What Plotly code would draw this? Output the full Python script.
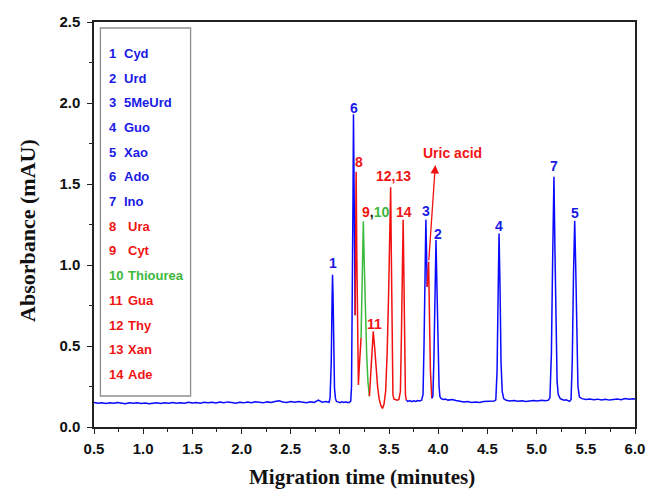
import plotly.graph_objects as go

# ---------------- electropherogram data (time in minutes, absorbance in mAU) ----------------
# baseline + peaks 1 and 6 (blue)
blue1_t = [0.50, 0.54, 0.58, 0.62, 0.66, 0.70, 0.74, 0.78, 0.82, 0.86, 0.90, 0.94, 0.98,
           1.02, 1.06, 1.10, 1.14, 1.18, 1.22, 1.26, 1.30, 1.34, 1.38, 1.42, 1.46, 1.50,
           1.54, 1.58, 1.62, 1.66, 1.70, 1.74, 1.78, 1.82, 1.86, 1.90, 1.94, 1.98, 2.02,
           2.06, 2.10, 2.14, 2.18, 2.22, 2.26, 2.30, 2.34, 2.38, 2.42, 2.46, 2.50, 2.54,
           2.58, 2.62, 2.66, 2.70, 2.74, 2.78, 2.82, 2.86, 2.89,
           2.900, 2.912, 2.920, 2.925, 2.930, 2.937, 2.945, 2.955, 2.965,
           2.98, 3.00, 3.02, 3.04, 3.06, 3.08, 3.10, 3.11,
           3.118, 3.126, 3.133, 3.138, 3.143, 3.150, 3.155]
blue1_a = [0.152, 0.147, 0.150, 0.145, 0.149, 0.146, 0.151, 0.147, 0.144, 0.149, 0.146, 0.150, 0.145,
           0.148, 0.143, 0.147, 0.150, 0.145, 0.149, 0.146, 0.151, 0.147, 0.150, 0.146, 0.152, 0.148,
           0.151, 0.147, 0.153, 0.149, 0.152, 0.148, 0.154, 0.150, 0.155, 0.151, 0.147, 0.152, 0.149,
           0.154, 0.150, 0.156, 0.152, 0.149, 0.155, 0.151, 0.157, 0.162, 0.155, 0.152, 0.157, 0.153,
           0.158, 0.154, 0.150, 0.156, 0.152, 0.166, 0.153, 0.157, 0.152,
           0.18, 0.40, 0.78, 0.94, 0.82, 0.45, 0.24, 0.175, 0.158,
           0.155, 0.150, 0.156, 0.151, 0.155, 0.150, 0.154, 0.160,
           0.25, 0.70, 1.40, 1.93, 1.50, 0.95, 0.69]

# peak 8 (red)
red1_t = [3.155, 3.160, 3.165, 3.172, 3.180, 3.188, 3.196, 3.205, 3.215]
red1_a = [0.69, 1.20, 1.576, 1.05, 0.50, 0.26, 0.36, 0.48, 0.55]

# peaks 9,10 (green)
green_t = [3.215, 3.225, 3.233, 3.238, 3.248, 3.260, 3.272, 3.285, 3.300]
green_a = [0.55, 0.85, 1.15, 1.27, 1.00, 0.70, 0.45, 0.28, 0.19]

# peaks 11, 12/13 and 14 (red)
red2_t = [3.300, 3.312, 3.325, 3.339, 3.352, 3.365, 3.383, 3.400, 3.418, 3.433, 3.448,
          3.465, 3.480, 3.495, 3.508, 3.516, 3.524, 3.532, 3.539, 3.550, 3.565, 3.583,
          3.600, 3.615, 3.625, 3.635, 3.643, 3.650, 3.658, 3.666, 3.675]
red2_a = [0.19, 0.32, 0.50, 0.59, 0.50, 0.38, 0.25, 0.17, 0.13, 0.115, 0.14,
          0.22, 0.45, 0.82, 1.22, 1.48, 1.00, 0.45, 0.20, 0.172, 0.168, 0.165,
          0.17, 0.22, 0.55, 1.00, 1.28, 0.95, 0.45, 0.20, 0.165]

# baseline + peak 3 (blue)
blue2_t = [3.675, 3.69, 3.71, 3.73, 3.75, 3.77, 3.79, 3.81, 3.83,
           3.845, 3.855, 3.865, 3.874, 3.880, 3.887]
blue2_a = [0.165, 0.158, 0.163, 0.157, 0.162, 0.158, 0.163, 0.160, 0.165,
           0.20, 0.50, 1.00, 1.28, 1.10, 0.866]

# uric acid (red)
red3_t = [3.887, 3.895, 3.902, 3.910, 3.920, 3.934]
red3_a = [0.866, 0.95, 1.02, 0.70, 0.35, 0.177]

# peaks 2, 4, 7, 5 and baseline to the end (blue)
blue3_t = [3.934, 3.945, 3.955, 3.965, 3.977, 3.987, 3.998, 4.008, 4.017, 4.03, 4.05, 4.07,
           4.10, 4.14, 4.18, 4.22, 4.26, 4.30, 4.34, 4.38, 4.42, 4.46, 4.50, 4.54, 4.57,
           4.585, 4.598, 4.608, 4.618, 4.628, 4.638, 4.650, 4.665,
           4.69, 4.73, 4.77, 4.81, 4.85, 4.89, 4.93, 4.97, 5.01, 5.05, 5.09, 5.12,
           5.135, 5.150, 5.162, 5.176, 5.186, 5.196, 5.208, 5.22, 5.24, 5.26, 5.28,
           5.30, 5.32, 5.335, 5.35, 5.362, 5.375, 5.387, 5.397, 5.408, 5.42, 5.435,
           5.46, 5.50, 5.54, 5.58, 5.62, 5.66, 5.70, 5.74, 5.78, 5.82, 5.86, 5.90,
           5.94, 5.98, 6.00]
blue3_a = [0.177, 0.19, 0.40, 0.85, 1.154, 0.85, 0.45, 0.25, 0.187, 0.175, 0.170, 0.172,
           0.166, 0.170, 0.163, 0.160, 0.155, 0.157, 0.151, 0.154, 0.152, 0.158, 0.160, 0.163, 0.160,
           0.168, 0.35, 0.80, 1.195, 0.85, 0.40, 0.22, 0.175,
           0.165, 0.160, 0.164, 0.159, 0.162, 0.157, 0.160, 0.163, 0.160, 0.165, 0.162, 0.166,
           0.18, 0.45, 1.00, 1.545, 1.10, 0.55, 0.28, 0.20, 0.175, 0.170, 0.165,
           0.168, 0.160, 0.158, 0.17, 0.40, 0.95, 1.273, 1.00, 0.55, 0.25, 0.185,
           0.175, 0.170, 0.173, 0.168, 0.172, 0.167, 0.171, 0.166, 0.171, 0.173, 0.168, 0.176,
           0.171, 0.175, 0.172]

# peak labels: text, time, absorbance of label centre, colour key
peak_labels = ["1", "6", "8", "11", "12,13", "14", "3", "2", "4", "7", "5"]
peak_label_t = [2.925, 3.140, 3.192, 3.349, 3.546, 3.650, 3.874, 3.994, 4.618, 5.176, 5.387]
peak_label_a = [1.012, 1.969, 1.638, 0.634, 1.551, 1.329, 1.333, 1.190, 1.243, 1.611, 1.319]
peak_label_c = ["b", "b", "r", "r", "r", "r", "b", "b", "b", "b", "b"]

# legend entries
legend_num = ["1", "2", "3", "4", "5", "6", "7", "8", "9", "10", "11", "12", "13", "14"]
legend_name = ["Cyd", "Urd", "5MeUrd", "Guo", "Xao", "Ado", "Ino",
               "Ura", "Cyt", "Thiourea", "Gua", "Thy", "Xan", "Ade"]
legend_c = ["b", "b", "b", "b", "b", "b", "b", "r", "r", "g", "r", "r", "r", "r"]

x_ticks = [0.5, 1.0, 1.5, 2.0, 2.5, 3.0, 3.5, 4.0, 4.5, 5.0, 5.5, 6.0]
y_ticks = [0.0, 0.5, 1.0, 1.5, 2.0, 2.5]

# ---------------- styling ----------------
BLUE = "#0a0aff"
RED = "#f21010"
GREEN = "#3cba3c"
TEXT_C = {"b": "#1a1ae6", "r": "#f01515", "g": "#3cb83c"}
SANS = "Liberation Sans, Arial, sans-serif"
SERIF = "Liberation Serif, Times New Roman, serif"

W, H = 657, 492
L, R, T, B = 94, 643, 22, 427


def px(x):
    return (x - L) / (R - L)


def py(y):
    return (B - y) / (B - T)


fig = go.Figure()
for tt, aa, col in [(blue1_t, blue1_a, BLUE), (red1_t, red1_a, RED), (green_t, green_a, GREEN),
                    (red2_t, red2_a, RED), (blue2_t, blue2_a, BLUE), (red3_t, red3_a, RED),
                    (blue3_t, blue3_a, BLUE)]:
    fig.add_trace(go.Scatter(x=tt, y=aa, mode="lines", line=dict(color=col, width=1.5),
                             hoverinfo="skip", showlegend=False))

ann = []
# peak labels
for txt, t, a, c in zip(peak_labels, peak_label_t, peak_label_a, peak_label_c):
    ann.append(dict(x=t, y=a, xref="x", yref="y", text=f"<b>{txt}</b>", showarrow=False,
                    font=dict(family=SANS, size=14, color=TEXT_C[c]),
                    xanchor="center", yanchor="middle"))
# combined "9,10" label
ann.append(dict(x=3.36, y=1.329, xref="x", yref="y", showarrow=False,
                text=(f"<b><span style='color:{TEXT_C['r']}'>9</span>"
                      f"<span style='color:#111'>,</span>"
                      f"<span style='color:{TEXT_C['g']}'>10</span></b>"),
                font=dict(family=SANS, size=14), xanchor="center", yanchor="middle"))
# uric acid arrow and label
ann.append(dict(x=3.970, y=1.617, ax=3.903, ay=1.02, xref="x", yref="y", axref="x", ayref="y",
                text="", showarrow=True, arrowhead=2, arrowsize=1.3, arrowwidth=1.3,
                arrowcolor=RED, standoff=0, startstandoff=0))
ann.append(dict(x=4.147, y=1.689, xref="x", yref="y", text="<b>Uric acid</b>", showarrow=False,
                font=dict(family=SANS, size=14, color=TEXT_C["r"]),
                xanchor="center", yanchor="middle"))

# legend box contents
for i, (n, name, c) in enumerate(zip(legend_num, legend_name, legend_c)):
    yc = 53.3 + i * 24.7
    ann.append(dict(x=px(107), y=py(yc), xref="paper", yref="paper", text=f"<b>{n}</b>",
                    showarrow=False, font=dict(family=SANS, size=13, color=TEXT_C[c]),
                    xanchor="left", yanchor="middle"))
    nx = 122.5 if i < 7 else 126.5
    ann.append(dict(x=px(nx), y=py(yc), xref="paper", yref="paper", text=f"<b>{name}</b>",
                    showarrow=False, font=dict(family=SANS, size=13, color=TEXT_C[c]),
                    xanchor="left", yanchor="middle"))

# axis titles
ann.append(dict(x=px(366), y=py(491), xref="paper", yref="paper",
                text="<b>Migration time (minutes)</b>", showarrow=False,
                font=dict(family=SERIF, size=21, color="#111"), xanchor="center", yanchor="bottom"))
ann.append(dict(x=px(27), y=py(230), xref="paper", yref="paper",
                text="<b>Absorbance (mAU)</b>", showarrow=False, textangle=-90,
                font=dict(family=SERIF, size=22, color="#111"), xanchor="center", yanchor="middle"))

shapes = [dict(type="rect", xref="paper", yref="paper", x0=px(100.5), x1=px(192), y0=py(396),
               y1=py(28), line=dict(color="#8f8f8f", width=1.3), fillcolor="white", layer="above")]

fig.update_layout(
    width=W, height=H,
    margin=dict(l=L, r=W - R, t=T, b=H - B),
    paper_bgcolor="white", plot_bgcolor="white",
    annotations=ann, shapes=shapes,
    xaxis=dict(range=[0.5, 6.0], tickmode="array", tickvals=x_ticks,
               ticktext=[f"<b>{v:.1f}</b>" for v in x_ticks],
               showgrid=False, zeroline=False, showline=True, linecolor="#222", linewidth=1.5,
               mirror=True, ticks="outside", ticklen=5, tickwidth=1.3, tickcolor="#222",
               minor=dict(dtick=0.25, tick0=0.25, ticks="outside", ticklen=3, tickwidth=1.2,
                          tickcolor="#222", showgrid=False),
               tickfont=dict(family=SANS, size=15, color="#111"), ticklabelstandoff=2),
    yaxis=dict(range=[0.0, 2.5], tickmode="array", tickvals=y_ticks,
               ticktext=[f"<b>{v:.1f}</b>" for v in y_ticks],
               showgrid=False, zeroline=False, showline=True, linecolor="#222", linewidth=1.5,
               mirror=True, ticks="outside", ticklen=5, tickwidth=1.3, tickcolor="#222",
               minor=dict(dtick=0.25, tick0=0.25, ticks="outside", ticklen=3, tickwidth=1.2,
                          tickcolor="#222", showgrid=False),
               tickfont=dict(family=SANS, size=15, color="#111"), ticklabelstandoff=4),
)

fig.write_html("out.html")
